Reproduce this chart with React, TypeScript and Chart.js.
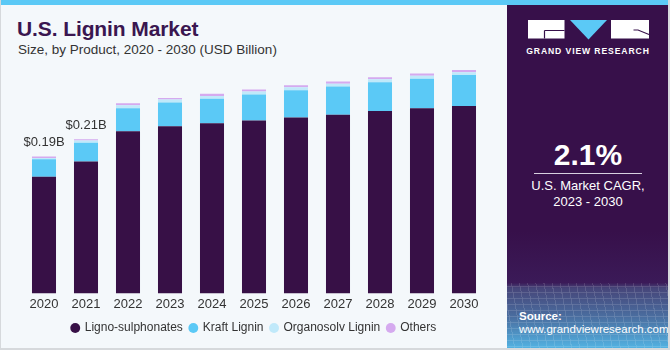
import React, { useEffect, useRef } from "react";
import { Chart, registerables } from "chart.js";

Chart.register(...registerables);

const years = ["2020", "2021", "2022", "2023", "2024", "2025", "2026", "2027", "2028", "2029", "2030"];
const lignoSulphonates = [0.162, 0.183, 0.225, 0.232, 0.236, 0.240, 0.244, 0.248, 0.253, 0.257, 0.260];
const kraftLignin = [0.024, 0.026, 0.032, 0.033, 0.034, 0.036, 0.038, 0.039, 0.040, 0.041, 0.043];
const organosolvLignin = [0.002, 0.003, 0.004, 0.004, 0.004, 0.004, 0.004, 0.004, 0.004, 0.004, 0.004];
const others = [0.002, 0.002, 0.003, 0.002, 0.003, 0.003, 0.003, 0.003, 0.003, 0.003, 0.003];
const valueLabels = ["$0.19B", "$0.21B"];

const FONT = "'Liberation Sans', Arial, sans-serif";

const totalLabelPlugin = {
  id: "totalLabels",
  afterDatasetsDraw(chart: any) {
    const { ctx } = chart;
    const yScale = chart.scales.y;
    const xScale = chart.scales.x;
    ctx.save();
    ctx.font = `13px ${FONT}`;
    ctx.fillStyle = "#333333";
    ctx.textAlign = "center";
    ctx.textBaseline = "middle";
    valueLabels.forEach((label, i) => {
      const total = lignoSulphonates[i] + kraftLignin[i] + organosolvLignin[i] + others[i];
      const x = xScale.getPixelForValue(i);
      const y = yScale.getPixelForValue(total) - 14;
      ctx.fillText(label, x, y);
    });
    ctx.restore();
  },
};

function BarChart() {
  const ref = useRef<HTMLCanvasElement>(null);
  useEffect(() => {
    if (!ref.current) return;
    const chart = new Chart(ref.current, {
      type: "bar",
      data: {
        labels: years,
        datasets: [
          { label: "Ligno-sulphonates", data: lignoSulphonates, backgroundColor: "#371046" },
          { label: "Kraft Lignin", data: kraftLignin, backgroundColor: "#5bc9f6" },
          { label: "Organosolv Lignin", data: organosolvLignin, backgroundColor: "#c0e9fa" },
          { label: "Others", data: others, backgroundColor: "#d5aaef" },
        ],
      },
      options: {
        animation: false,
        responsive: true,
        maintainAspectRatio: false,
        layout: { padding: { left: 22, right: 22, top: 10, bottom: 4 } },
        datasets: { bar: { barPercentage: 0.572, categoryPercentage: 1 } },
        scales: {
          x: {
            stacked: true,
            grid: { display: false, drawTicks: false, tickLength: 0 },
            border: { display: false },
            ticks: { color: "#333333", font: { size: 13, family: FONT }, padding: 3 },
          },
          y: { stacked: true, display: false, min: 0, max: 0.31 },
        },
        plugins: {
          legend: {
            position: "bottom",
            labels: {
              usePointStyle: true,
              pointStyle: "circle",
              boxWidth: 7,
              boxHeight: 7,
              padding: 7,
              color: "#333333",
              font: { size: 12, family: FONT },
            },
          },
          tooltip: { enabled: false },
        },
      },
      plugins: [totalLabelPlugin],
    });
    return () => chart.destroy();
  }, []);
  return <canvas ref={ref} />;
}

export default function App() {
  return (
    <div
      style={{
        position: "fixed",
        left: 0,
        top: 0,
        width: 670,
        height: 350,
        background: "#f4f8fb",
        overflow: "hidden",
        fontFamily: FONT,
        boxSizing: "border-box",
        borderLeft: "1px solid #d6d9dc",
        borderBottom: "2px solid #d6d9dc",
        borderRight: "2px solid #d6d9dc",
      }}
    >
      <div style={{ position: "absolute", left: 0, top: 0, width: 670, height: 5, background: "#5bc9f6" }} />
      <div
        style={{
          position: "absolute",
          left: 16,
          top: 17,
          fontSize: 21,
          fontWeight: 700,
          color: "#3a1650",
          lineHeight: "24px",
          letterSpacing: -0.1,
        }}
      >
        U.S. Lignin Market
      </div>
      <div style={{ position: "absolute", left: 17, top: 41, fontSize: 13.5, color: "#333333", lineHeight: "18px" }}>
        Size, by Product, 2020 - 2030 (USD Billion)
      </div>
      <div style={{ position: "absolute", left: 0, top: 60, width: 506, height: 288 }}>
        <BarChart />
      </div>
      <div
        style={{
          position: "absolute",
          left: 506,
          top: 5,
          width: 162,
          height: 343,
          background:
            "linear-gradient(180deg, #37104a 0%, #37104a 66%, #3b1a58 81%, #464579 82.5%, #4a6ea0 91%, #52b2e2 100%)",
          color: "#ffffff",
          overflow: "hidden",
        }}
      >
        <div
          style={{
            position: "absolute",
            left: 0,
            top: 278,
            width: 162,
            height: 70,
            opacity: 0.18,
            backgroundImage:
              "repeating-linear-gradient(80deg, rgba(255,255,255,0.7) 0px, rgba(255,255,255,0.7) 1px, transparent 1px, transparent 8px), repeating-linear-gradient(0deg, rgba(255,255,255,0.7) 0px, rgba(255,255,255,0.7) 1px, transparent 1px, transparent 6px)",
          }}
        />
        <svg width={162} height={40} style={{ position: "absolute", left: 0, top: 0 }}>
          <rect x={21} y={15} width={36.5} height={18.5} fill="#ffffff" />
          <path d="M37.5 25.5 H57.5 M37.5 25.5 V33.5" stroke="#37104a" strokeWidth={1.2} fill="none" />
          <polygon points="63,15 100,15 81.5,34.5" fill="#5bc9f6" />
          <rect x={104} y={15} width={38} height={18.5} fill="#ffffff" />
          <path d="M126.5 25 H131 L142 29.5" stroke="#37104a" strokeWidth={1.1} fill="none" />
        </svg>
        <div
          style={{
            position: "absolute",
            left: 0,
            top: 38.5,
            width: 162,
            textAlign: "center",
            fontSize: 8.6,
            fontWeight: 700,
            letterSpacing: 0.9,
            lineHeight: "14px",
          }}
        >
          GRAND VIEW RESEARCH
        </div>
        <div
          style={{
            position: "absolute",
            left: 0,
            top: 133,
            width: 162,
            textAlign: "center",
            fontSize: 30,
            fontWeight: 700,
            lineHeight: "34px",
          }}
        >
          2.1%
        </div>
        <div style={{ position: "absolute", left: 27, top: 167.5, width: 108, height: 1.5, background: "#d8d0e0" }} />
        <div
          style={{
            position: "absolute",
            left: 0,
            top: 173,
            width: 162,
            textAlign: "center",
            fontSize: 13,
            lineHeight: "15.5px",
          }}
        >
          U.S. Market CAGR,
          <br />
          2023 - 2030
        </div>
        <div style={{ position: "absolute", left: 12, top: 304, fontSize: 11.5, fontWeight: 700, lineHeight: "14px" }}>
          Source:
        </div>
        <div style={{ position: "absolute", left: 12, top: 317, fontSize: 11.5, lineHeight: "14px" }}>
          www.grandviewresearch.com
        </div>
      </div>
    </div>
  );
}
